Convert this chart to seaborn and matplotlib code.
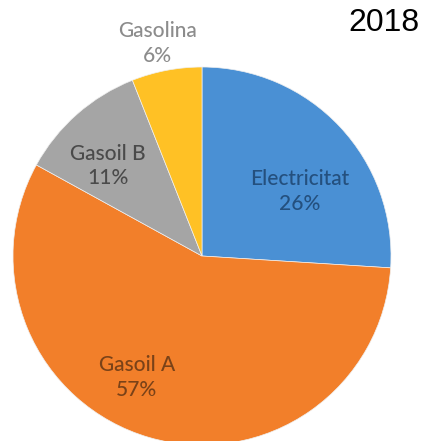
import numpy as np
import pandas as pd
import seaborn as sns
import matplotlib.pyplot as plt

## Data
categories = ['Electricitat', 'Gasoil A', 'Gasoil B', 'Gasolina']
shares = [26, 57, 11, 6]
colors = ['#4A90D4', '#F27F2A', '#A5A5A5', '#FFC125']
text_colors = ['#24507E', '#7A4218', '#4A4A4A', '#8C8C8C']
year = '2018'

# label placement (distance from centre, angle nudge in degrees)
label_dist = [0.62, 0.73, 0.69, 1.15]
label_nudge = [-10, -12, 5, 1]

sns.set_theme(style='white')
plt.rcParams['font.family'] = ['Lato', 'DejaVu Sans']

df = pd.DataFrame({'cat': categories, 'share': shares})

fig = plt.figure(figsize=(4.27, 4.41), dpi=100)
ax = fig.add_axes([13 / 427, -4 / 441, 378 / 427, 378 / 441])

wedges, _ = ax.pie(df['share'], colors=colors, startangle=90, counterclock=False,
                   wedgeprops={'edgecolor': '#F0F0F0', 'linewidth': 0.5})
ax.set_xlim(-1, 1)
ax.set_ylim(-1, 1)
ax.set_aspect('auto')
ax.axis('off')

for w, name, pct, tc, d, nd in zip(wedges, df['cat'], df['share'], text_colors, label_dist, label_nudge):
    ang = np.deg2rad((w.theta1 + w.theta2) / 2 + nd)
    x, y = d * np.cos(ang), d * np.sin(ang)
    ax.text(x, y, f'{name}\n{pct}%', ha='center', va='center', fontsize=15,
            color=tc, linespacing=1.3, fontweight='medium')

fig.text(384 / 427, 1 - 23 / 441, year, ha='center', va='center', fontsize=23,
         color='black', family=['Liberation Sans', 'DejaVu Sans'])

plt.savefig('out.png', dpi=100)
